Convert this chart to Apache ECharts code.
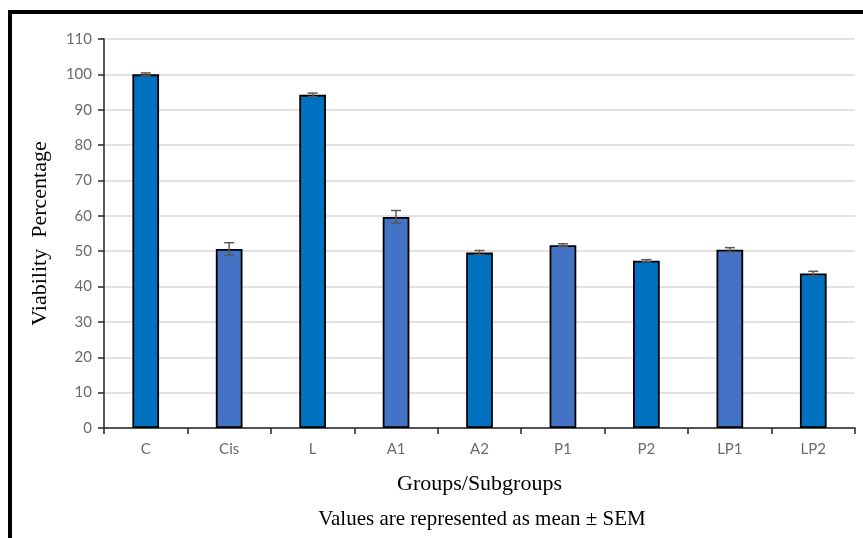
<!DOCTYPE html>
<html><head><meta charset="utf-8">
<script src="https://cdn.jsdelivr.net/npm/echarts@6/dist/echarts.min.js"></script>
<style>html,body{margin:0;padding:0;background:#fff}#c{width:863px;height:538px}</style>
</head><body><div id="c"></div>
<script>
const categories = ['C','Cis','L','A1','A2','P1','P2','LP1','LP2'];
const means = [100, 50.6, 94.2, 59.7, 49.6, 51.7, 47.3, 50.4, 43.7];
const sem = [0.4, 1.8, 0.5, 1.8, 0.6, 0.4, 0.3, 0.6, 0.6];
const yTicks = [0,10,20,30,40,50,60,70,80,90,100,110];
const barColors = ['#0070C0','#4472C4'];

const chart = echarts.init(document.getElementById('c'));
const axisFont = 'Lato, "Open Sans", sans-serif';
const serif = '"Liberation Serif", "Times New Roman", serif';
chart.setOption({
  animation:false,
  backgroundColor:'#fff',
  grid:{left:104, top:39, right:8, bottom:110, containLabel:false},
  xAxis:{
    type:'category', data:categories,
    axisLine:{lineStyle:{color:'#262626', width:1.5}},
    axisTick:{show:true, alignWithLabel:false, length:6, lineStyle:{color:'#262626', width:1.5}},
    axisLabel:{color:'#6b6b6b', fontSize:15, fontFamily:axisFont, margin:14},
    name:'Groups/Subgroups', nameLocation:'middle', nameGap:45,
    nameTextStyle:{color:'#000', fontSize:22, fontFamily:serif}
  },
  yAxis:{
    type:'value', min:0, max:110, interval:10,
    axisLine:{show:true, lineStyle:{color:'#262626', width:1.5}},
    axisTick:{show:true, inside:false, length:6, lineStyle:{color:'#262626', width:1.5}},
    axisLabel:{color:'#6b6b6b', fontSize:15, fontFamily:axisFont, margin:12,
      formatter:v=>yTicks.includes(v)?String(v):''},
    splitLine:{lineStyle:{color:'#d9d9d9', width:1.5}},
    name:'Viability  Percentage', nameLocation:'middle', nameGap:53,
    nameTextStyle:{color:'#000', fontSize:22, fontFamily:serif}
  },
  graphic:[
    {type:'line', shape:{x1:10, y1:12, x2:863, y2:12}, style:{stroke:'#000', lineWidth:4}, z:100},
    {type:'line', shape:{x1:10, y1:10, x2:10, y2:538}, style:{stroke:'#000', lineWidth:4}, z:100},
    {type:'text', x:482, y:519, style:{text:'Values are represented as mean ± SEM', fill:'#000', fontSize:21,
      fontFamily:serif, align:'center', verticalAlign:'middle'}}
  ],
  series:[
    {
      type:'bar', barWidth:'32%',
      data: means.map((v,i)=>({value:v, itemStyle:{color:barColors[i%2]}})),
      itemStyle:{borderColor:'#000', borderWidth:1.8},
      z:2
    },
    {
      type:'custom',
      data: means.map((v,i)=>[i, v, sem[i]]),
      renderItem:(params, api)=>{
        const x = api.value(0), m = api.value(1), e = api.value(2);
        const top = api.coord([x, m+e]);
        const bot = api.coord([x, m-e]);
        const hw = 5;
        const st = {stroke:'#595959', lineWidth:1.5};
        return {type:'group', children:[
          {type:'line', shape:{x1:top[0], y1:top[1], x2:bot[0], y2:bot[1]}, style:st},
          {type:'line', shape:{x1:top[0]-hw, y1:top[1], x2:top[0]+hw, y2:top[1]}, style:st},
          {type:'line', shape:{x1:bot[0]-hw, y1:bot[1], x2:bot[0]+hw, y2:bot[1]}, style:st}
        ]};
      },
      z:5
    }
  ]
});
</script></body></html>
